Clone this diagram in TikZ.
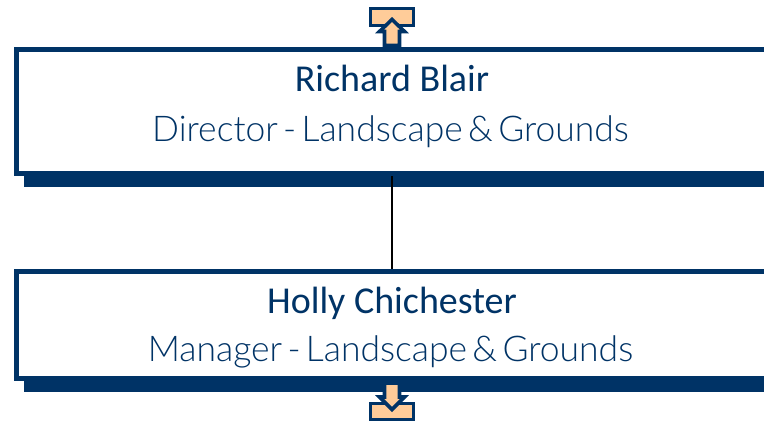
\documentclass[tikz,border=0pt]{standalone}
\usepackage{fontspec}
\setmainfont{Carlito}
\newfontfamily\lightfont[WordSpace=0.55]{Lato Light}
\definecolor{navy}{HTML}{003366}
\definecolor{peach}{HTML}{FFCC99}
\tikzset{
  x=0.75pt,y=-0.75pt,
  staffbox/.style={draw=navy,line width=3.6pt,fill=white,inner sep=0pt,outer sep=0pt,minimum width=563pt},
  shadowbar/.style={fill=navy,draw=none},
  iconpart/.style={draw=navy,fill=peach,line width=2.7pt,line join=miter},
  linkline/.style={draw=black,line width=1.5pt},
  namelabel/.style={text=navy,anchor=base,inner sep=0pt,font=\fontsize{28.5}{32}\selectfont},
  titlelabel/.style={text=navy,anchor=base,inner sep=0pt,font=\lightfont\fontsize{26.6}{30}\selectfont},
}
\begin{document}
\begin{tikzpicture}
\useasboundingbox (0,0) rectangle (764,422);
\clip (0,0) rectangle (764,422);
% top box
\fill[shadowbar] (24,60) rectangle (780,187);
\node[staffbox,minimum height=93pt] (rb) at (392,111.5) {};
\node[namelabel] (rbn) at (392,91.5) {Richard Blair};
\node[titlelabel] (rbt) at (390.5,141.5) {Director - Landscape \& Grounds};
% lower box
\fill[shadowbar] (24,290) rectangle (780,392);
\node[staffbox,minimum height=80.5pt] (hc) at (392,325) {};
\node[namelabel] (hcn) at (392,313.5) {Holly Chichester};
\node[titlelabel] (hct) at (390.5,361.5) {Manager - Landscape \& Grounds};
% connector
\coordinate (c1) at (391.5,176);
\coordinate (c2) at (391.5,269);
\draw[linkline] (c1) -- (c2);
% top icon
\draw[iconpart] (370.5,8.5) rectangle (413.5,25.5);
\draw[iconpart] (392,19.5) -- (404.5,31.5) -- (399.5,31.5) -- (399.5,45.5) -- (384.5,45.5) -- (384.5,31.5) -- (379.5,31.5) -- cycle;
% bottom icon
\draw[iconpart] (370.5,403.5) rectangle (413.5,419.5);
\draw[iconpart] (392,409.5) -- (404.5,397) -- (399.5,397) -- (399.5,383) -- (384.5,383) -- (384.5,397) -- (379.5,397) -- cycle;
\end{tikzpicture}
\end{document}
